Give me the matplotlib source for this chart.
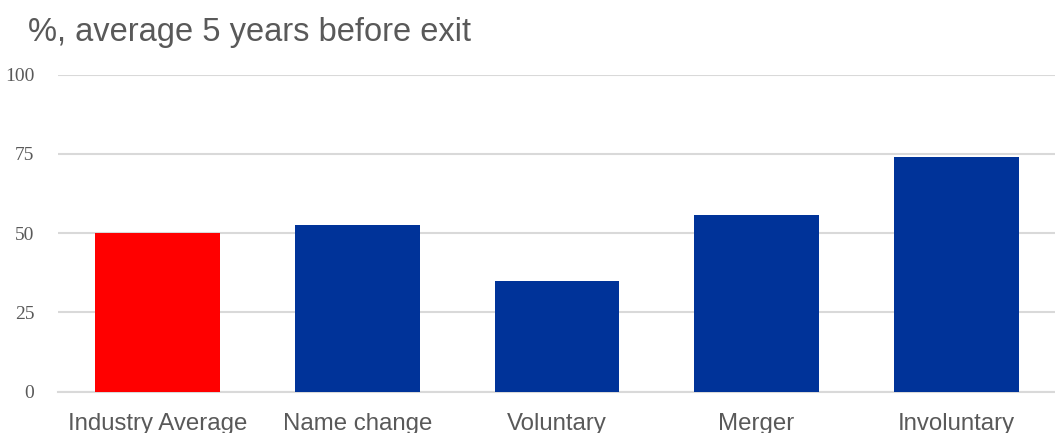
import matplotlib.pyplot as plt

categorias = ["Industry Average", "Name change", "Voluntary", "Merger", "Involuntary"]
valores = [50.0, 52.5, 34.8, 55.6, 73.9]
cores = ["#ff0000", "#003399", "#003399", "#003399", "#003399"]
yticks = [0, 25, 50, 75, 100]

cinza = "#595959"

fig = plt.figure(figsize=(10.55, 4.33), dpi=100)
ax = fig.add_axes([58 / 1055, 0.0954, 998 / 1055, 0.7321])

x = range(len(categorias))
ax.bar(x, valores, width=0.625, color=cores, linewidth=0, zorder=3)

ax.set_xlim(-0.5, len(categorias) - 0.5)
ax.set_ylim(0, 100)
ax.set_yticks(yticks)
ax.set_yticklabels([str(v) for v in yticks], fontfamily="Liberation Serif", fontsize=14, color=cinza)
ax.set_xticks(list(x))
ax.set_xticklabels(categorias, fontfamily="Liberation Sans", fontsize=17.3, color=cinza)
ax.tick_params(axis="both", length=0)
ax.tick_params(axis="y", pad=17)
ax.tick_params(axis="x", pad=15.5)

ax.yaxis.grid(True, color="#d9d9d9", linewidth=1.5, zorder=0)
ax.set_axisbelow(True)
for lado in ["top", "right", "left"]:
    ax.spines[lado].set_visible(False)
ax.spines["bottom"].set_color("#d9d9d9")
ax.spines["bottom"].set_linewidth(1.5)

fig.text(28 / 1055, 1 - 41 / 433, "%, average 5 years before exit", fontfamily="Liberation Sans",
         fontsize=23.5, color=cinza, va="baseline", ha="left")

fig.savefig("out.png", dpi=100)
